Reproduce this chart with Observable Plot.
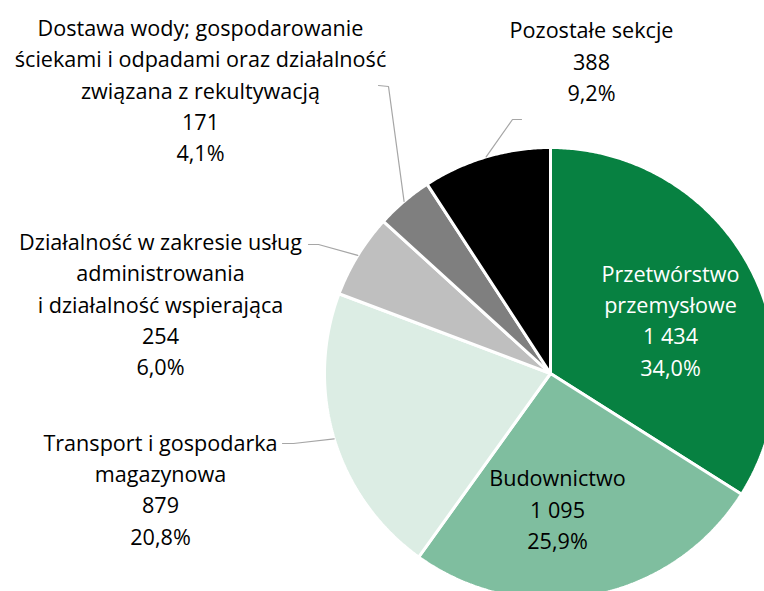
<!DOCTYPE html>
<html>
<head>
<meta charset="utf-8">
<script src="https://cdn.jsdelivr.net/npm/d3@7"></script>
<script src="https://cdn.jsdelivr.net/npm/@observablehq/plot@0.6"></script>
<style>
  html, body { margin: 0; padding: 0; background: #fff; overflow: hidden; }
  #chart svg { overflow: hidden; }
</style>
</head>
<body>
<div id="chart"></div>
<script>
const categories = [
  "Przetwórstwo\nprzemysłowe",
  "Budownictwo",
  "Transport i gospodarka\nmagazynowa",
  "Działalność w zakresie usług\nadministrowania\ni działalność wspierająca",
  "Dostawa wody; gospodarowanie\nściekami i odpadami oraz działalność\nzwiązana z rekultywacją",
  "Pozostałe sekcje"
];
const values = [1434, 1095, 879, 254, 171, 388];
const colors = ["#078141", "#7fbe9f", "#dcede4", "#bfbfbf", "#7f7f7f", "#000000"];
const textColors = ["#ffffff", "#000000", "#000000", "#000000", "#000000", "#000000"];

// layout (pixels relative to pie centre)
const W = 764, H = 591, CX = 550, CY = 373, R = 226;
const labelPos = [[120, -55], [7, 134], [-390, 114], [-390, -71], [-350, -285], [41, -314]];
const elbows = [null, null, [[-268, 70], [-257, 70]], [[-242, -129], [-232, -129]], [[-172, -288], [-162, -287]], [[-29, -254], [-38, -254]]];

const locale = d3.formatLocale({decimal: ",", thousands: " ", grouping: [3], currency: ["", " zł"]});
const fmtN = locale.format(",d");
const fmtP = locale.format(".1f");
const total = d3.sum(values);

const arcs = d3.pie().sort(null).value(d => d)(values);

const slicePts = [];
arcs.forEach((a, i) => {
  slicePts.push({cat: categories[i], x: 0, y: 0});
  const n = Math.max(4, Math.ceil((a.endAngle - a.startAngle) * 120));
  for (let k = 0; k <= n; k++) {
    const t = a.startAngle + (a.endAngle - a.startAngle) * k / n;
    slicePts.push({cat: categories[i], x: R * Math.sin(t), y: -R * Math.cos(t)});
  }
  slicePts.push({cat: categories[i], x: 0, y: 0});
});

const leaderPts = [];
arcs.forEach((a, i) => {
  if (!elbows[i]) return;
  const m = (a.startAngle + a.endAngle) / 2;
  elbows[i].forEach(p => leaderPts.push({id: i, x: p[0], y: p[1]}));
  leaderPts.push({id: i, x: R * Math.sin(m), y: -R * Math.cos(m)});
});

const labels = categories.map((c, i) => ({
  text: c + "\n" + fmtN(values[i]) + "\n" + fmtP(values[i] / total * 100) + "%",
  x: labelPos[i][0], y: labelPos[i][1], color: textColors[i]
}));

const chart = Plot.plot({
  width: W, height: H,
  margin: 0,
  x: {domain: [-CX, W - CX], range: [0, W], axis: null},
  y: {domain: [-CY, H - CY], range: [0, H], axis: null},
  color: {domain: categories, range: colors},
  style: {fontFamily: "'Open Sans', sans-serif", background: "#fff", overflow: "hidden"},
  marks: [
    Plot.line(slicePts, {x: "x", y: "y", z: "cat", fill: "cat", stroke: "#ffffff", strokeWidth: 3, strokeLinejoin: "miter", curve: "linear", clip: true}),
    Plot.line(leaderPts, {x: "x", y: "y", z: "id", stroke: "#a6a6a6", strokeWidth: 1.2, curve: "linear"}),
    Plot.text(labels, {x: "x", y: "y", text: "text", fill: "color", fontSize: 21.6, lineHeight: 1.45, textAnchor: "middle"})
  ]
});
document.getElementById("chart").appendChild(chart);
</script>
</body>
</html>
